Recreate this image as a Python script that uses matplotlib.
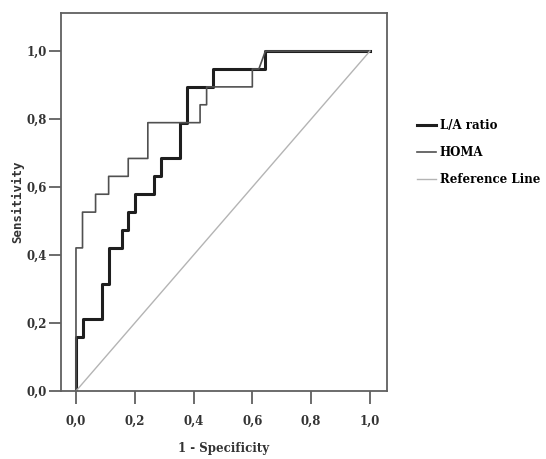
import matplotlib.pyplot as plt
from matplotlib.ticker import FuncFormatter

# ROC step points (1 - specificity, sensitivity)
la_fpr = [0, 0, 1/45, 1/45, 4/45, 4/45, 5/45, 5/45, 7/45, 7/45, 8/45, 8/45, 9/45, 9/45,
          12/45, 12/45, 13/45, 13/45, 16/45, 16/45, 17/45, 17/45, 21/45, 21/45, 29/45, 29/45, 1]
la_tpr = [0, 3/19, 3/19, 4/19, 4/19, 6/19, 6/19, 8/19, 8/19, 9/19, 9/19, 10/19, 10/19, 11/19,
          11/19, 12/19, 12/19, 13/19, 13/19, 15/19, 15/19, 17/19, 17/19, 18/19, 18/19, 1, 1]

homa_fpr = [0, 0, 1/45, 1/45, 3/45, 3/45, 5/45, 5/45, 8/45, 8/45, 11/45, 11/45, 19/45, 19/45,
            20/45, 20/45, 27/45, 27/45, 28/45, 29/45, 1]
homa_tpr = [0, 8/19, 8/19, 10/19, 10/19, 11/19, 11/19, 12/19, 12/19, 13/19, 13/19, 15/19, 15/19, 16/19,
            16/19, 17/19, 17/19, 18/19, 18/19, 1, 1]

ref_x = [0, 1]
ref_y = [0, 1]

ticks = [0, 0.2, 0.4, 0.6, 0.8, 1.0]

fig = plt.figure(figsize=(5.46, 4.59), dpi=100)
ax = fig.add_axes([0.1117, 0.1481, 0.597, 0.8235])

l1, = ax.plot(la_fpr, la_tpr, color="#1e1e1e", lw=2.2, label="L/A ratio")
l2, = ax.plot(homa_fpr, homa_tpr, color="#505050", lw=1.2, label="HOMA")
l3, = ax.plot(ref_x, ref_y, color="#b4b4b4", lw=1.0, label="Reference Line")

ax.set_xlim(-0.051, 1.058)
ax.set_ylim(0, 1.112)
ax.set_xticks(ticks)
ax.set_yticks(ticks)
fmt = FuncFormatter(lambda v, p: f"{v:.1f}".replace(".", ","))
ax.xaxis.set_major_formatter(fmt)
ax.yaxis.set_major_formatter(fmt)

for s in ax.spines.values():
    s.set_color("#606060")
    s.set_linewidth(1.3)
ax.tick_params(direction="out", length=9, width=1.3, color="#606060", labelcolor="#333333")
for lab in ax.get_xticklabels() + ax.get_yticklabels():
    lab.set_family("DejaVu Serif")
    lab.set_fontweight("bold")
    lab.set_fontsize(8.5)
ax.tick_params(axis="x", pad=8)
ax.tick_params(axis="y", pad=1)

ax.set_xlabel("1 - Specificity", family="DejaVu Serif", fontweight="bold", fontsize=8.5,
              color="#333333", labelpad=10)
ax.set_ylabel("Sensitivity", family="DejaVu Sans Mono", fontweight="bold", fontsize=9,
              color="#333333", labelpad=2)

fig.legend(handles=[l1, l2, l3], loc="center left", bbox_to_anchor=(0.745, 0.668),
           frameon=False, handlelength=1.6, handletextpad=0.3, labelspacing=1.2,
           prop={"family": "DejaVu Serif", "weight": "bold", "size": 8.5})

fig.savefig("out.png", dpi=100)
